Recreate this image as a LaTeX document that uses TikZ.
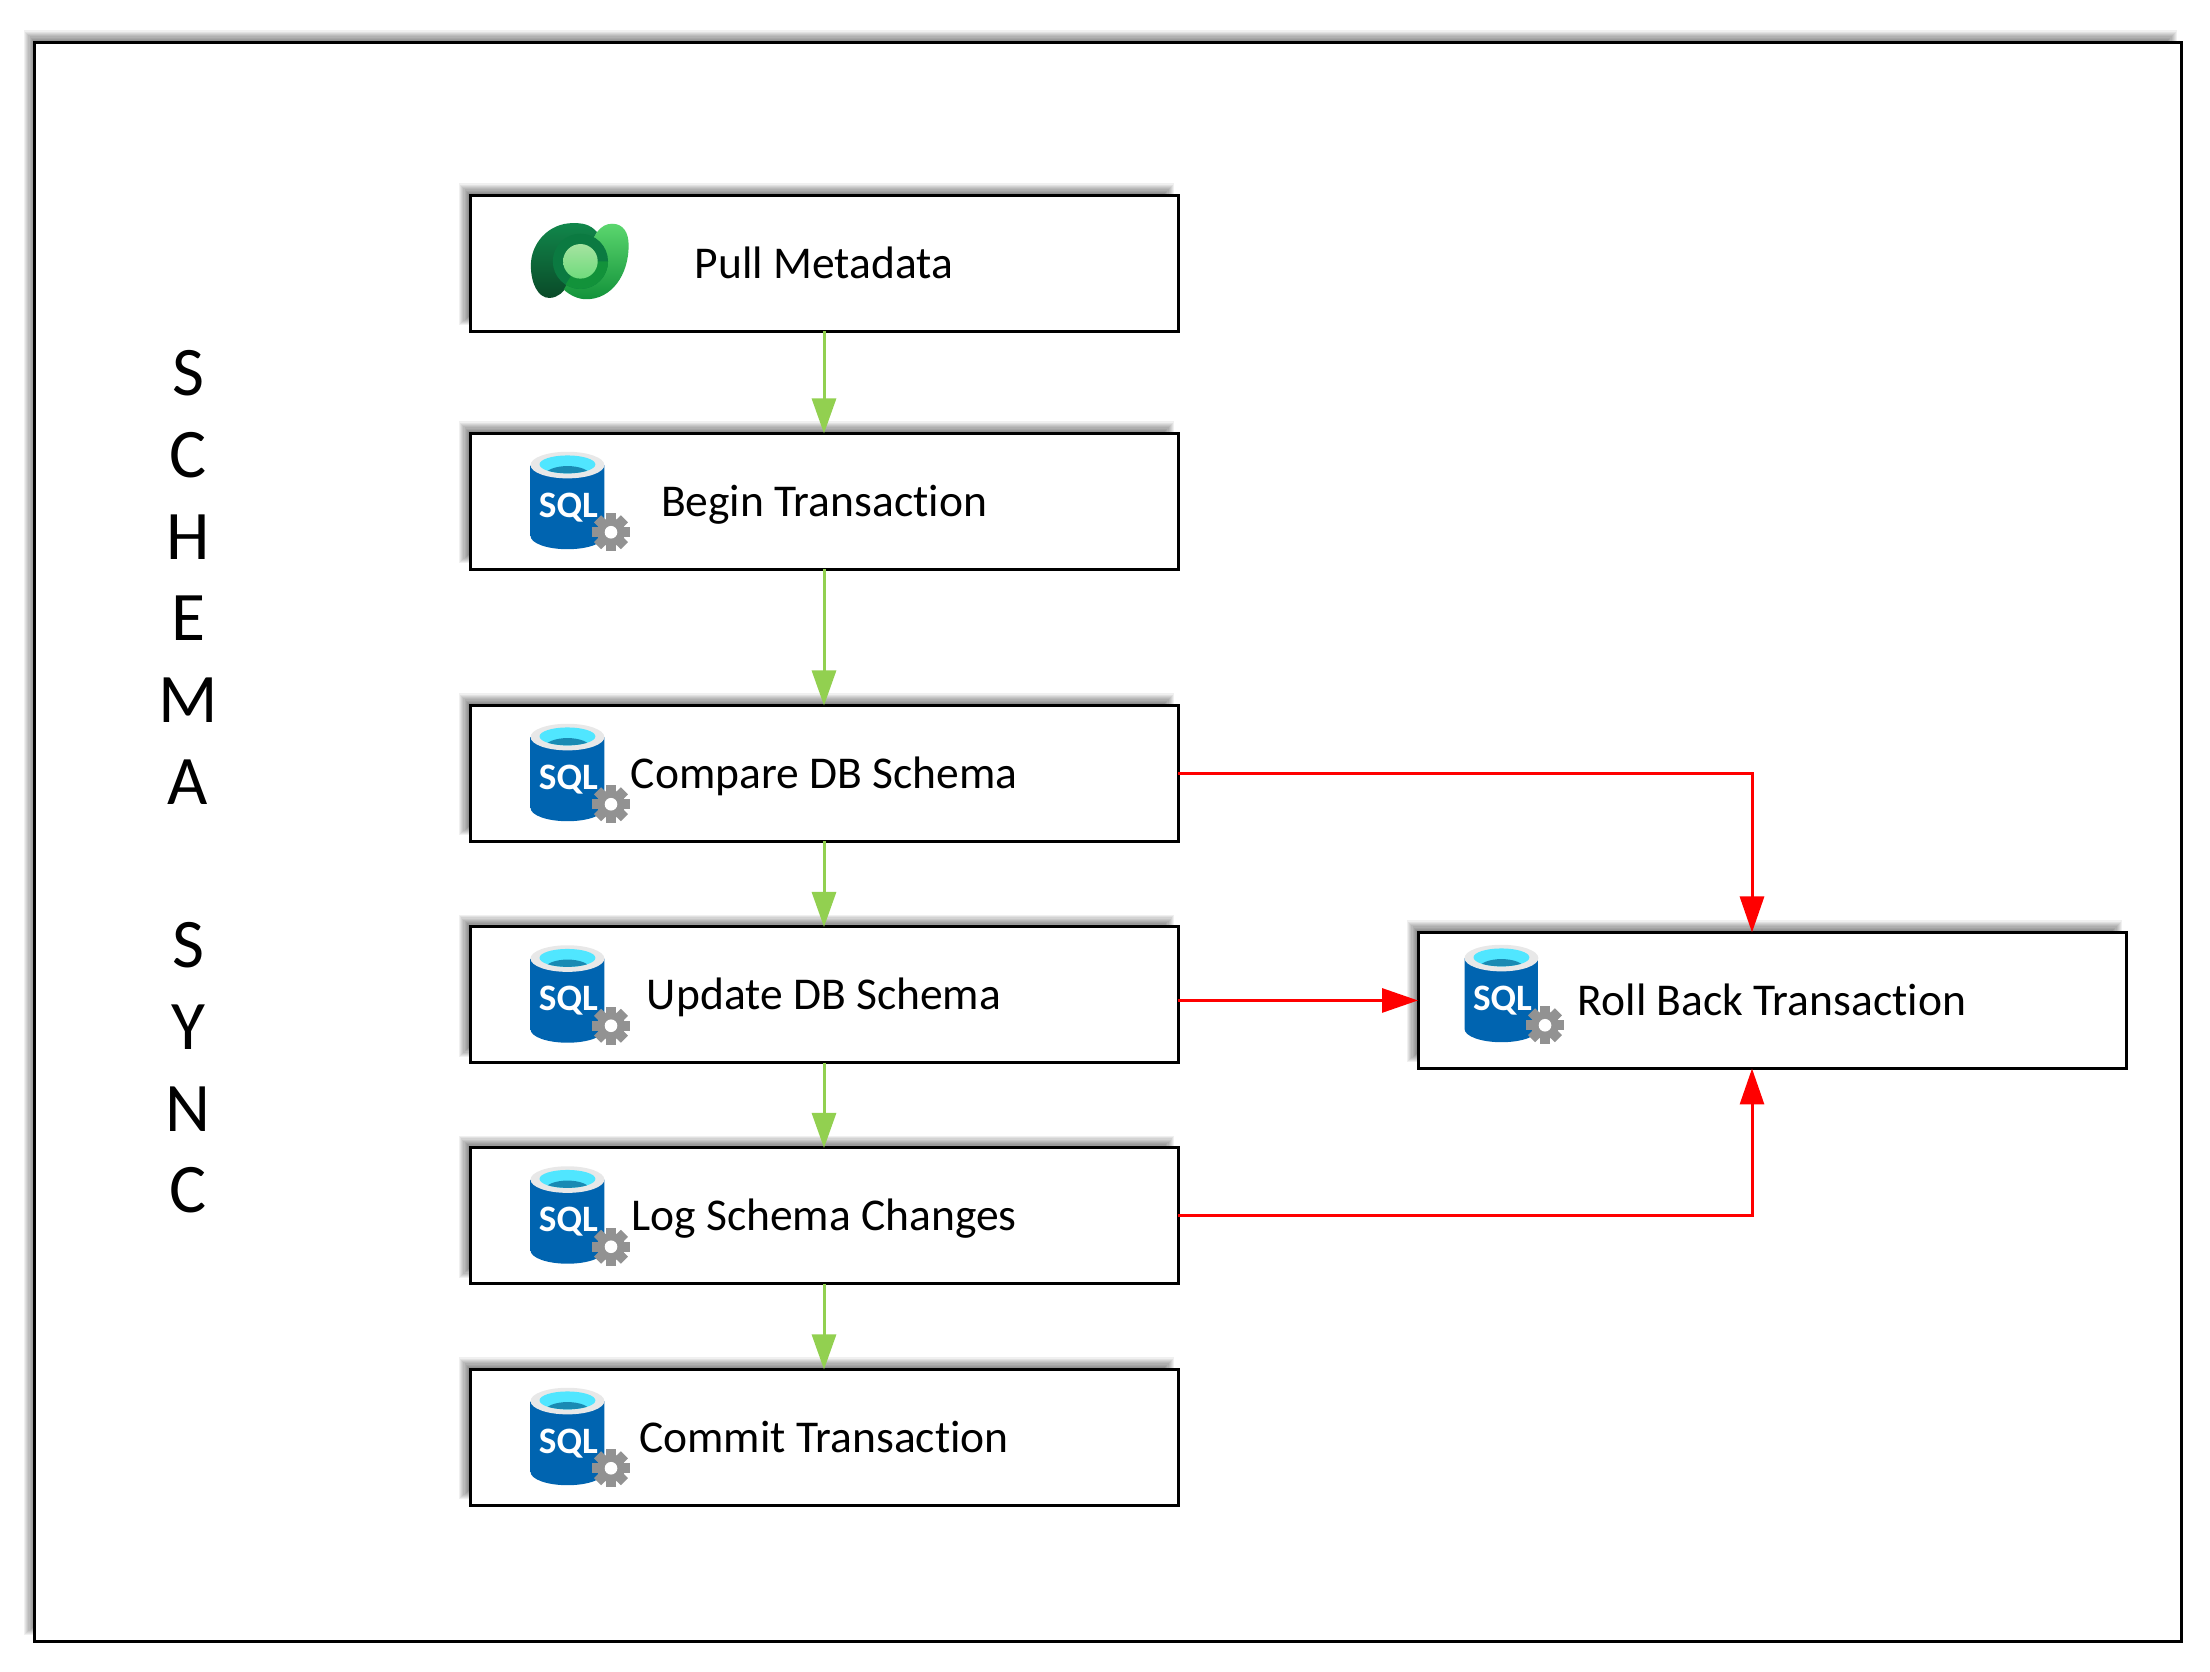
\documentclass[tikz,border=0pt]{standalone}
\usepackage{fontspec}
\setmainfont{Carlito}[Ligatures=NoCommon]
\usetikzlibrary{arrows.meta, backgrounds}
\definecolor{step-green}{HTML}{92D050}
\definecolor{undo-red}{HTML}{FF0000}
\definecolor{sql-dark}{HTML}{0064B0}
\definecolor{sql-mid}{HTML}{007CDC}
\definecolor{sql-rim}{HTML}{E8E8E8}
\definecolor{sql-water}{HTML}{50E6FF}
\definecolor{sql-deep}{HTML}{198AB3}
\definecolor{gear-grey}{HTML}{929292}
\definecolor{data-dark}{HTML}{11874B}
\definecolor{data-deep}{HTML}{0A4A28}
\definecolor{data-light}{HTML}{5BD66E}
\definecolor{data-grass}{HTML}{12923A}
\definecolor{data-ring}{HTML}{0B7A41}
\definecolor{data-core}{HTML}{A5E3A0}
\definecolor{data-corelow}{HTML}{6FDB7C}
\newcommand{\softshadow}[1]{%
  \foreach \i in {0,...,9} {
    \fill[black, opacity=0.06]
      ([shift={(-0.11+0.011*\i,0.06+0.011*\i)}]#1.south west) rectangle
      ([shift={(-0.04-0.011*\i,0.12-0.012*\i)}]#1.north east);
  }}
\tikzset{
  stepbox/.style={draw=black, line width=0.03cm, fill=white, inner sep=0pt, outer sep=0pt,
    minimum width=7.08cm, minimum height=1.36cm, align=center,
    text height=0.44cm, text depth=0.14cm},
  okflow/.style={-{Triangle[length=0.35cm,width=0.24cm]}, line width=0.03cm, step-green},
  badflow/.style={-{Triangle[length=0.36cm,width=0.24cm]}, line width=0.03cm, undo-red},
  sqlicon/.pic={
    \begin{scope}[x=0.003333cm, y=-0.003333cm, shift={(-31,-760)}]
      \shade[left color=sql-dark, middle color=sql-mid, right color=sql-dark]
        (213,855) -- (213,1068) arc[start angle=180, end angle=0, x radius=111, y radius=40]
        -- (435,855) -- cycle;
      \fill[sql-rim] (324,855) ellipse[x radius=111, y radius=40];
      \fill[sql-water] (324,853) ellipse[x radius=84, y radius=27];
      \begin{scope}
        \clip (324,853) ellipse[x radius=84, y radius=27];
        \fill[sql-deep] (324,886) ellipse[x radius=68, y radius=28];
      \end{scope}
      \node[text=white, inner sep=0pt, font=\fontsize{10.6}{12}\selectfont\bfseries] (-sql) at (327,982) {SQL};
      \fill[gear-grey] (455,1057) circle[radius=42];
      \foreach \a in {0,45,...,315} {
        \fill[gear-grey, rotate around={\a:(455,1057)}] (440,1000) rectangle (470,1030);
      }
      \fill[white] (455,1057) circle[radius=19];
    \end{scope}
  },
  dataicon/.pic={
    \begin{scope}[x=0.003333cm, y=-0.003333cm, shift={(-30,-45)}]
      \shade[top color=data-dark, bottom color=data-deep]
        (412,155) .. controls (390,130) and (365,128) .. (340,128)
        .. controls (265,128) and (213,190) .. (213,255)
        .. controls (213,310) and (235,353) .. (268,353)
        .. controls (295,353) and (310,335) .. (325,315) -- cycle;
      \shade[top color=data-light, bottom color=data-grass]
        (412,155) .. controls (425,138) and (440,130) .. (457,130)
        .. controls (490,130) and (507,155) .. (507,195)
        .. controls (507,285) and (455,357) .. (380,357)
        .. controls (355,357) and (330,345) .. (312,328) -- cycle;
      \fill[data-ring] (362,243) circle[radius=83];
      \begin{scope}
        \clip (362,243) circle[radius=83];
        \fill[data-grass] (362,243) -- (450,243) -- (460,340) -- (300,340) -- cycle;
      \end{scope}
      \shade[top color=data-core, bottom color=data-corelow] (362,243) circle[radius=52];
    \end{scope}
  },
  every node/.style={font=\fontsize{12.95}{15}\selectfont}
}

\begin{document}
\begin{tikzpicture}
  \useasboundingbox (0,0) rectangle (22.1,16.72);
  \node[draw=black, line width=0.03cm, inner sep=0pt, outer sep=0pt,
        minimum width=21.46cm, minimum height=15.99cm] (frame) at (11.08,8.30) {};
  \node[font=\fontsize{19.8}{23.24}\selectfont, align=center] (title) at (1.88,8.90)
    {S\\C\\H\\E\\M\\A\\~\\S\\Y\\N\\C};

  \node[stepbox] (pull) at (8.24,14.085) {Pull Metadata};
  \node[stepbox] (begin) at (8.24,11.705) {Begin Transaction};
  \node[stepbox] (compare) at (8.24,8.985) {Compare DB Schema};
  \node[stepbox] (update) at (8.24,6.77) {Update DB Schema};
  \node[stepbox] (log) at (8.24,4.56) {Log Schema Changes};
  \node[stepbox] (commit) at (8.24,2.345) {Commit Transaction};
  \node[stepbox] (roll) at (17.72,6.715) {Roll Back Transaction};

  \begin{pgfonlayer}{background}
    \softshadow{frame}
    \fill[white] (frame.south west) rectangle (frame.north east);
    \foreach \n in {pull,begin,compare,update,log,commit,roll} {
      \softshadow{\n}
    }
  \end{pgfonlayer}

  \pic (pullicon) at (pull.north west) {dataicon};
  \pic (beginicon) at (begin.north west) {sqlicon};
  \pic (compareicon) at (compare.north west) {sqlicon};
  \pic (updateicon) at (update.north west) {sqlicon};
  \pic (logicon) at (log.north west) {sqlicon};
  \pic (commiticon) at (commit.north west) {sqlicon};
  \pic (rollicon) at ([shift={(-0.14,0.06)}]roll.north west) {sqlicon};

  \draw[okflow] (pull) -- (begin);
  \draw[okflow] (begin) -- (compare);
  \draw[okflow] (compare) -- (update);
  \draw[okflow] (update) -- (log);
  \draw[okflow] (log) -- (commit);

  \coordinate (rollin) at ([xshift=-0.2cm]roll.north);
  \coordinate (rollout) at ([xshift=-0.2cm]roll.south);
  \draw[badflow] (compare.east) -| (rollin);
  \draw[badflow] (update.east |- roll.west) -- (roll.west);
  \draw[badflow] (log.east) -| (rollout);
\end{tikzpicture}
\end{document}
